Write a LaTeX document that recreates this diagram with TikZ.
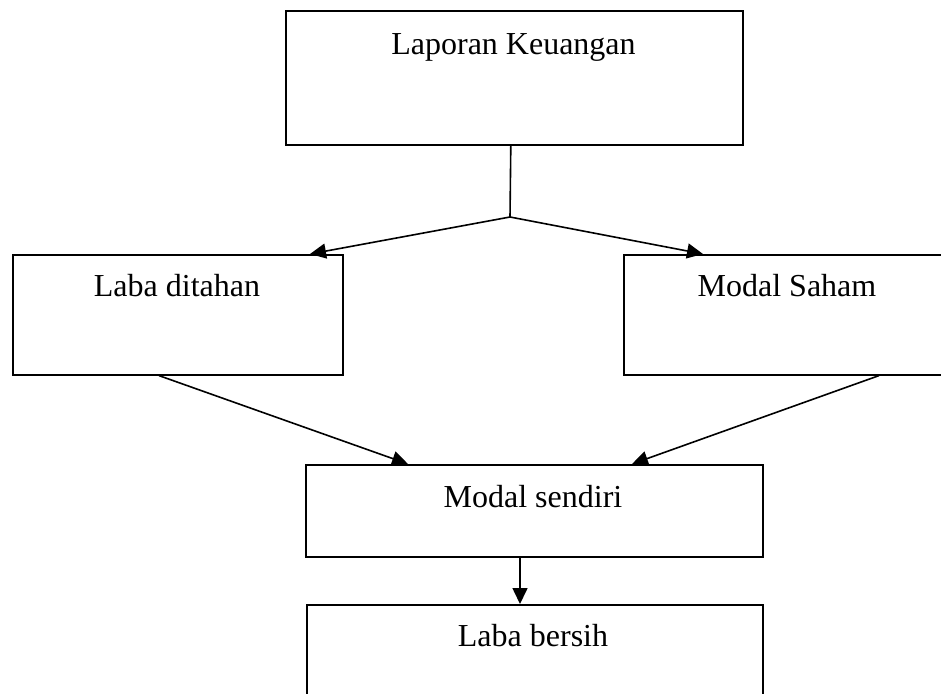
\documentclass[tikz,border=0pt]{standalone}
\usepackage{fontspec}
\setmainfont{Liberation Serif}
\usetikzlibrary{arrows.meta}
\begin{document}
\begin{tikzpicture}[x=1pt,y=-1pt,
  box/.style={draw, line width=1.6pt, inner sep=0pt, anchor=north west},
  lbl/.style={anchor=base, font=\fontsize{32}{38}\selectfont, inner sep=0pt},
  conn/.style={line width=1.6pt},
  arr/.style={conn, -{Triangle[length=16pt,width=15pt]}}]
\useasboundingbox (0,0) rectangle (941,693);
\clip (0,0) rectangle (941,693);
% boxes
\node[box, minimum width=457pt, minimum height=134pt] (lk) at (285,10) {};
\node[box, minimum width=330pt, minimum height=120pt] (ld) at (12,254) {};
\node[box, minimum width=328pt, minimum height=120pt] (ms) at (623,254) {};
\node[box, minimum width=457pt, minimum height=92pt] (msd) at (305,464) {};
\node[box, minimum width=456pt, minimum height=120pt] (lb) at (306,604) {};
% labels
\node[lbl] (tlk) at (513.5,55) {Laporan Keuangan};
\node[lbl] (tld) at (177,296) {Laba ditahan};
\node[lbl] (tms) at (787,296) {Modal Saham};
\node[lbl] (tmsd) at (533,507) {Modal sendiri};
\node[lbl] (tlb) at (533,646) {Laba bersih};
% connectors
\coordinate (j) at (510,217);
\draw[conn] ([xshift=-3.5pt]lk.south) -- (j);
\draw[arr] (j) -- ([xshift=298pt]ld.north west);
\draw[arr] (j) -- ([xshift=80pt]ms.north west);
\draw[arr] ([xshift=147pt]ld.south west) -- ([xshift=103pt]msd.north west);
\draw[arr] ([xshift=256pt]ms.south west) -- ([xshift=327pt]msd.north west);
\draw[arr] ([xshift=215pt]msd.south west) -- ([xshift=214pt]lb.north west);
\end{tikzpicture}
\end{document}
